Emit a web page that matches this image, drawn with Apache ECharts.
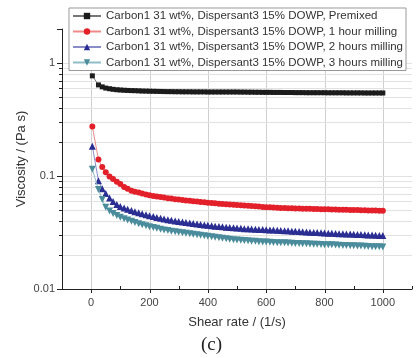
<!DOCTYPE html>
<html><head><meta charset="utf-8">
<script src="https://cdn.jsdelivr.net/npm/echarts@6/dist/echarts.min.js"></script>
<style>html,body{margin:0;padding:0;background:#fff}#c{width:419px;height:358px}</style>
</head><body><div id="c"></div><script>
const shearRate = [4, 25, 38, 50, 63, 75, 88, 100, 113, 125, 138, 150, 163, 175, 188, 200, 213, 225, 238, 250,
  263, 275, 288, 300, 313, 325, 338, 350, 363, 375, 388, 400, 413, 425, 438, 450, 463, 475, 488, 500,
  513, 525, 538, 550, 563, 575, 588, 600, 613, 625, 638, 650, 663, 675, 688, 700, 713, 725, 738, 750,
  763, 775, 788, 800, 813, 825, 838, 850, 863, 875, 888, 900, 913, 925, 938, 950, 963, 975, 988, 1000];
const premixed = [0.77, 0.64, 0.615, 0.600, 0.592, 0.585, 0.580, 0.577, 0.574, 0.572, 0.570, 0.569, 0.567, 0.565, 0.564, 0.563, 0.562, 0.561, 0.560, 0.559,
  0.558, 0.558, 0.557, 0.557, 0.556, 0.556, 0.556, 0.555, 0.555, 0.555, 0.555, 0.554, 0.554, 0.554, 0.554, 0.554, 0.554, 0.554, 0.554, 0.554,
  0.553, 0.553, 0.552, 0.552, 0.551, 0.551, 0.550, 0.550, 0.550, 0.549, 0.549, 0.549, 0.548, 0.548, 0.548, 0.547, 0.547, 0.547, 0.546, 0.546,
  0.546, 0.546, 0.546, 0.546, 0.545, 0.545, 0.545, 0.545, 0.545, 0.544, 0.544, 0.544, 0.544, 0.544, 0.543, 0.543, 0.543, 0.543, 0.543, 0.543];
const hour1 = [0.274, 0.140, 0.120, 0.108, 0.099, 0.094, 0.089, 0.085, 0.080, 0.077, 0.074, 0.0725, 0.0715, 0.070, 0.0685, 0.0675, 0.0667, 0.066, 0.0652, 0.0644,
  0.0637, 0.0631, 0.0624, 0.0618, 0.0613, 0.0608, 0.0603, 0.0598, 0.0594, 0.059, 0.0586, 0.0581, 0.0577, 0.0573, 0.0569, 0.0566, 0.0563, 0.0560, 0.0557, 0.0554,
  0.0551, 0.0548, 0.0545, 0.0542, 0.0539, 0.0536, 0.0533, 0.0530, 0.0528, 0.0526, 0.0524, 0.0522, 0.0520, 0.0519, 0.0518, 0.0517, 0.0515, 0.0514, 0.0513, 0.0512,
  0.0511, 0.0510, 0.0509, 0.0508, 0.0507, 0.0506, 0.0505, 0.0504, 0.0503, 0.0502, 0.0501, 0.0500, 0.0499, 0.0498, 0.0497, 0.0496, 0.0495, 0.0494, 0.0493, 0.0492];
const hours2 = [0.183, 0.091, 0.077, 0.070, 0.064, 0.0595, 0.056, 0.0538, 0.0522, 0.0508, 0.0494, 0.0483, 0.0472, 0.0463, 0.0454, 0.0446, 0.0438, 0.0430, 0.0423, 0.0416,
  0.0410, 0.0405, 0.0400, 0.0396, 0.0392, 0.0388, 0.0384, 0.0380, 0.0376, 0.0372, 0.0369, 0.0366, 0.0363, 0.0360, 0.0357, 0.0355, 0.0352, 0.0350, 0.0348, 0.0346,
  0.0344, 0.0342, 0.0341, 0.0339, 0.0338, 0.0337, 0.0336, 0.0335, 0.0333, 0.0332, 0.0331, 0.0329, 0.0328, 0.0327, 0.0325, 0.0324, 0.0322, 0.0321, 0.0320, 0.0318,
  0.0317, 0.0316, 0.0314, 0.0313, 0.0312, 0.0311, 0.0310, 0.0309, 0.0308, 0.0307, 0.0306, 0.0305, 0.0304, 0.0303, 0.0302, 0.0301, 0.0300, 0.0299, 0.0298, 0.0297];
const hours3 = [0.115, 0.076, 0.062, 0.053, 0.049, 0.0465, 0.0448, 0.0432, 0.0418, 0.0407, 0.0397, 0.0387, 0.0378, 0.0370, 0.0362, 0.0356, 0.0350, 0.0344, 0.0338, 0.0333,
  0.0329, 0.0325, 0.0321, 0.0318, 0.0314, 0.0311, 0.0308, 0.0305, 0.0302, 0.0299, 0.0296, 0.0293, 0.0290, 0.0287, 0.0284, 0.0281, 0.0278, 0.0276, 0.0273, 0.0271,
  0.0270, 0.0268, 0.0267, 0.0265, 0.0264, 0.0262, 0.0261, 0.0260, 0.0259, 0.0258, 0.0257, 0.0256, 0.0256, 0.0255, 0.0254, 0.0253, 0.0253, 0.0252, 0.0251, 0.0250,
  0.0249, 0.0249, 0.0248, 0.0247, 0.0246, 0.0246, 0.0245, 0.0244, 0.0243, 0.0243, 0.0242, 0.0241, 0.0240, 0.0240, 0.0239, 0.0238, 0.0237, 0.0236, 0.0236, 0.0235];
const seriesNames = [
  'Carbon1 31 wt%, Dispersant3 15% DOWP, Premixed',
  'Carbon1 31 wt%, Dispersant3 15% DOWP, 1 hour milling',
  'Carbon1 31 wt%, Dispersant3 15% DOWP, 2 hours milling',
  'Carbon1 31 wt%, Dispersant3 15% DOWP, 3 hours milling'
];
const xTickLabels = [0, 200, 400, 600, 800, 1000];
const xMinorTicks = [100, 300, 500, 700, 900, 1100];
const yTickLabels = [0.01, 0.1, 1];
const yMinorValues = [0.02, 0.03, 0.04, 0.05, 0.06, 0.07, 0.08, 0.09, 0.2, 0.3, 0.4, 0.5, 0.6, 0.7, 0.8, 0.9, 2];
const yGridValues = [0.02, 0.03, 0.04, 0.05, 0.06, 0.07, 0.08, 0.09, 0.1, 0.2, 0.3, 0.4, 0.5, 0.6, 0.7, 0.8, 0.9, 1];

const FONT = '"Liberation Sans", Arial, sans-serif';
const chart = echarts.init(document.getElementById('c'), null, {renderer: 'canvas'});
const pairs = arr => shearRate.map((x, i) => [x, arr[i]]);
const downTri = 'path://M0,0 L10,0 L5,9 Z';

const styles = [
  {data: premixed, symbol: 'rect', size: 5, color: '#1c1c1c', line: '#777777'},
  {data: hour1, symbol: 'circle', size: 6, color: '#e3202a', line: '#f08a8a'},
  {data: hours2, symbol: 'triangle', size: 7, color: '#2a2d92', line: '#8a8cc8'},
  {data: hours3, symbol: downTri, size: 7, color: '#4a8c9c', line: '#8fbcc6'}
];

chart.setOption({
  animation: false,
  grid: {left: 62, right: 7, top: 29, bottom: 69},
  xAxis: {
    type: 'value', min: -100, max: 1100, interval: 100,
    axisLine: {onZero: false, lineStyle: {color: '#222', width: 1}},
    axisTick: {show: false},
    splitLine: {show: false},
    axisLabel: {formatter: v => xTickLabels.includes(v) ? String(v) : '', color: '#444', fontSize: 11, fontFamily: FONT, margin: 8},
    name: 'Shear rate / (1/s)', nameLocation: 'middle', nameGap: 27, nameMoveOverlap: false,
    nameTextStyle: {color: '#333', fontSize: 13, fontFamily: FONT}
  },
  yAxis: {
    type: 'log', logBase: 10, min: 0.01, max: 2,
    axisLine: {show: true, onZero: false, lineStyle: {color: '#222', width: 1}},
    axisTick: {show: true, length: 5, lineStyle: {color: '#222'}},
    splitLine: {show: false},
    axisLabel: {
      formatter: v => { const t = yTickLabels.find(t => Math.abs(t - v) / t < 1e-6); return t === undefined ? '' : String(t); },
      color: '#444', fontSize: 11, fontFamily: FONT, margin: 7
    },
    name: 'Viscosity / (Pa s)', nameLocation: 'middle', nameGap: 34, nameMoveOverlap: false,
    nameTextStyle: {color: '#333', fontSize: 13, fontFamily: FONT}
  },
  legend: {
    orient: 'vertical', left: 69, top: 8,
    itemWidth: 28, itemHeight: 8, itemGap: 3.5,
    padding: [2, 3, 2, 3],
    backgroundColor: '#fff', borderColor: '#999', borderWidth: 1,
    textStyle: {color: '#333', fontSize: 11.5, fontFamily: FONT},
    data: seriesNames
  },
  series: styles.map((s, i) => ({
    type: 'line', name: seriesNames[i], data: pairs(s.data),
    symbol: s.symbol, symbolSize: s.size, showAllSymbol: true,
    itemStyle: {color: s.color},
    lineStyle: {color: s.line, width: 1},
    z: 3 + i
  }))
});

// grid lines and minor ticks positioned through the chart's own scales
const px = (x, y) => chart.convertToPixel({gridIndex: 0}, [x, y]);
const g = [];
const yTop = px(0, 2)[1], yBot = px(0, 0.01)[1];
const xLeft = px(-100, 1)[0], xRight = px(1100, 1)[0];
xTickLabels.forEach(v => {
  const x = Math.round(px(v, 1)[0]) + 0.5;
  g.push({type: 'line', shape: {x1: x, y1: yTop, x2: x, y2: yBot}, style: {stroke: '#cfcfcf', lineWidth: 1}, z: 0, silent: true});
  g.push({type: 'line', shape: {x1: x, y1: yBot, x2: x, y2: yBot + 4}, style: {stroke: '#222', lineWidth: 1}, z: 5, silent: true});
});
xMinorTicks.forEach(v => {
  const x = Math.round(px(v, 1)[0]) + 0.5;
  g.push({type: 'line', shape: {x1: x, y1: yBot, x2: x, y2: yBot - 3}, style: {stroke: '#222', lineWidth: 1}, z: 5, silent: true});
});
yGridValues.forEach(v => {
  const y = Math.round(px(0, v)[1]) + 0.5;
  g.push({type: 'line', shape: {x1: xLeft, y1: y, x2: xRight, y2: y}, style: {stroke: '#e2e2e2', lineWidth: 1}, z: 0, silent: true});
});
yMinorValues.forEach(v => {
  const y = Math.round(px(0, v)[1]) + 0.5;
  g.push({type: 'line', shape: {x1: xLeft - 3, y1: y, x2: xLeft, y2: y}, style: {stroke: '#222', lineWidth: 1}, z: 5, silent: true});
});
g.push({type: 'text', left: 201, top: 336, style: {text: '(c)', font: '19px "Liberation Serif", "DejaVu Serif", serif', fill: '#222'}, z: 5});
chart.setOption({graphic: g});
</script></body></html>
